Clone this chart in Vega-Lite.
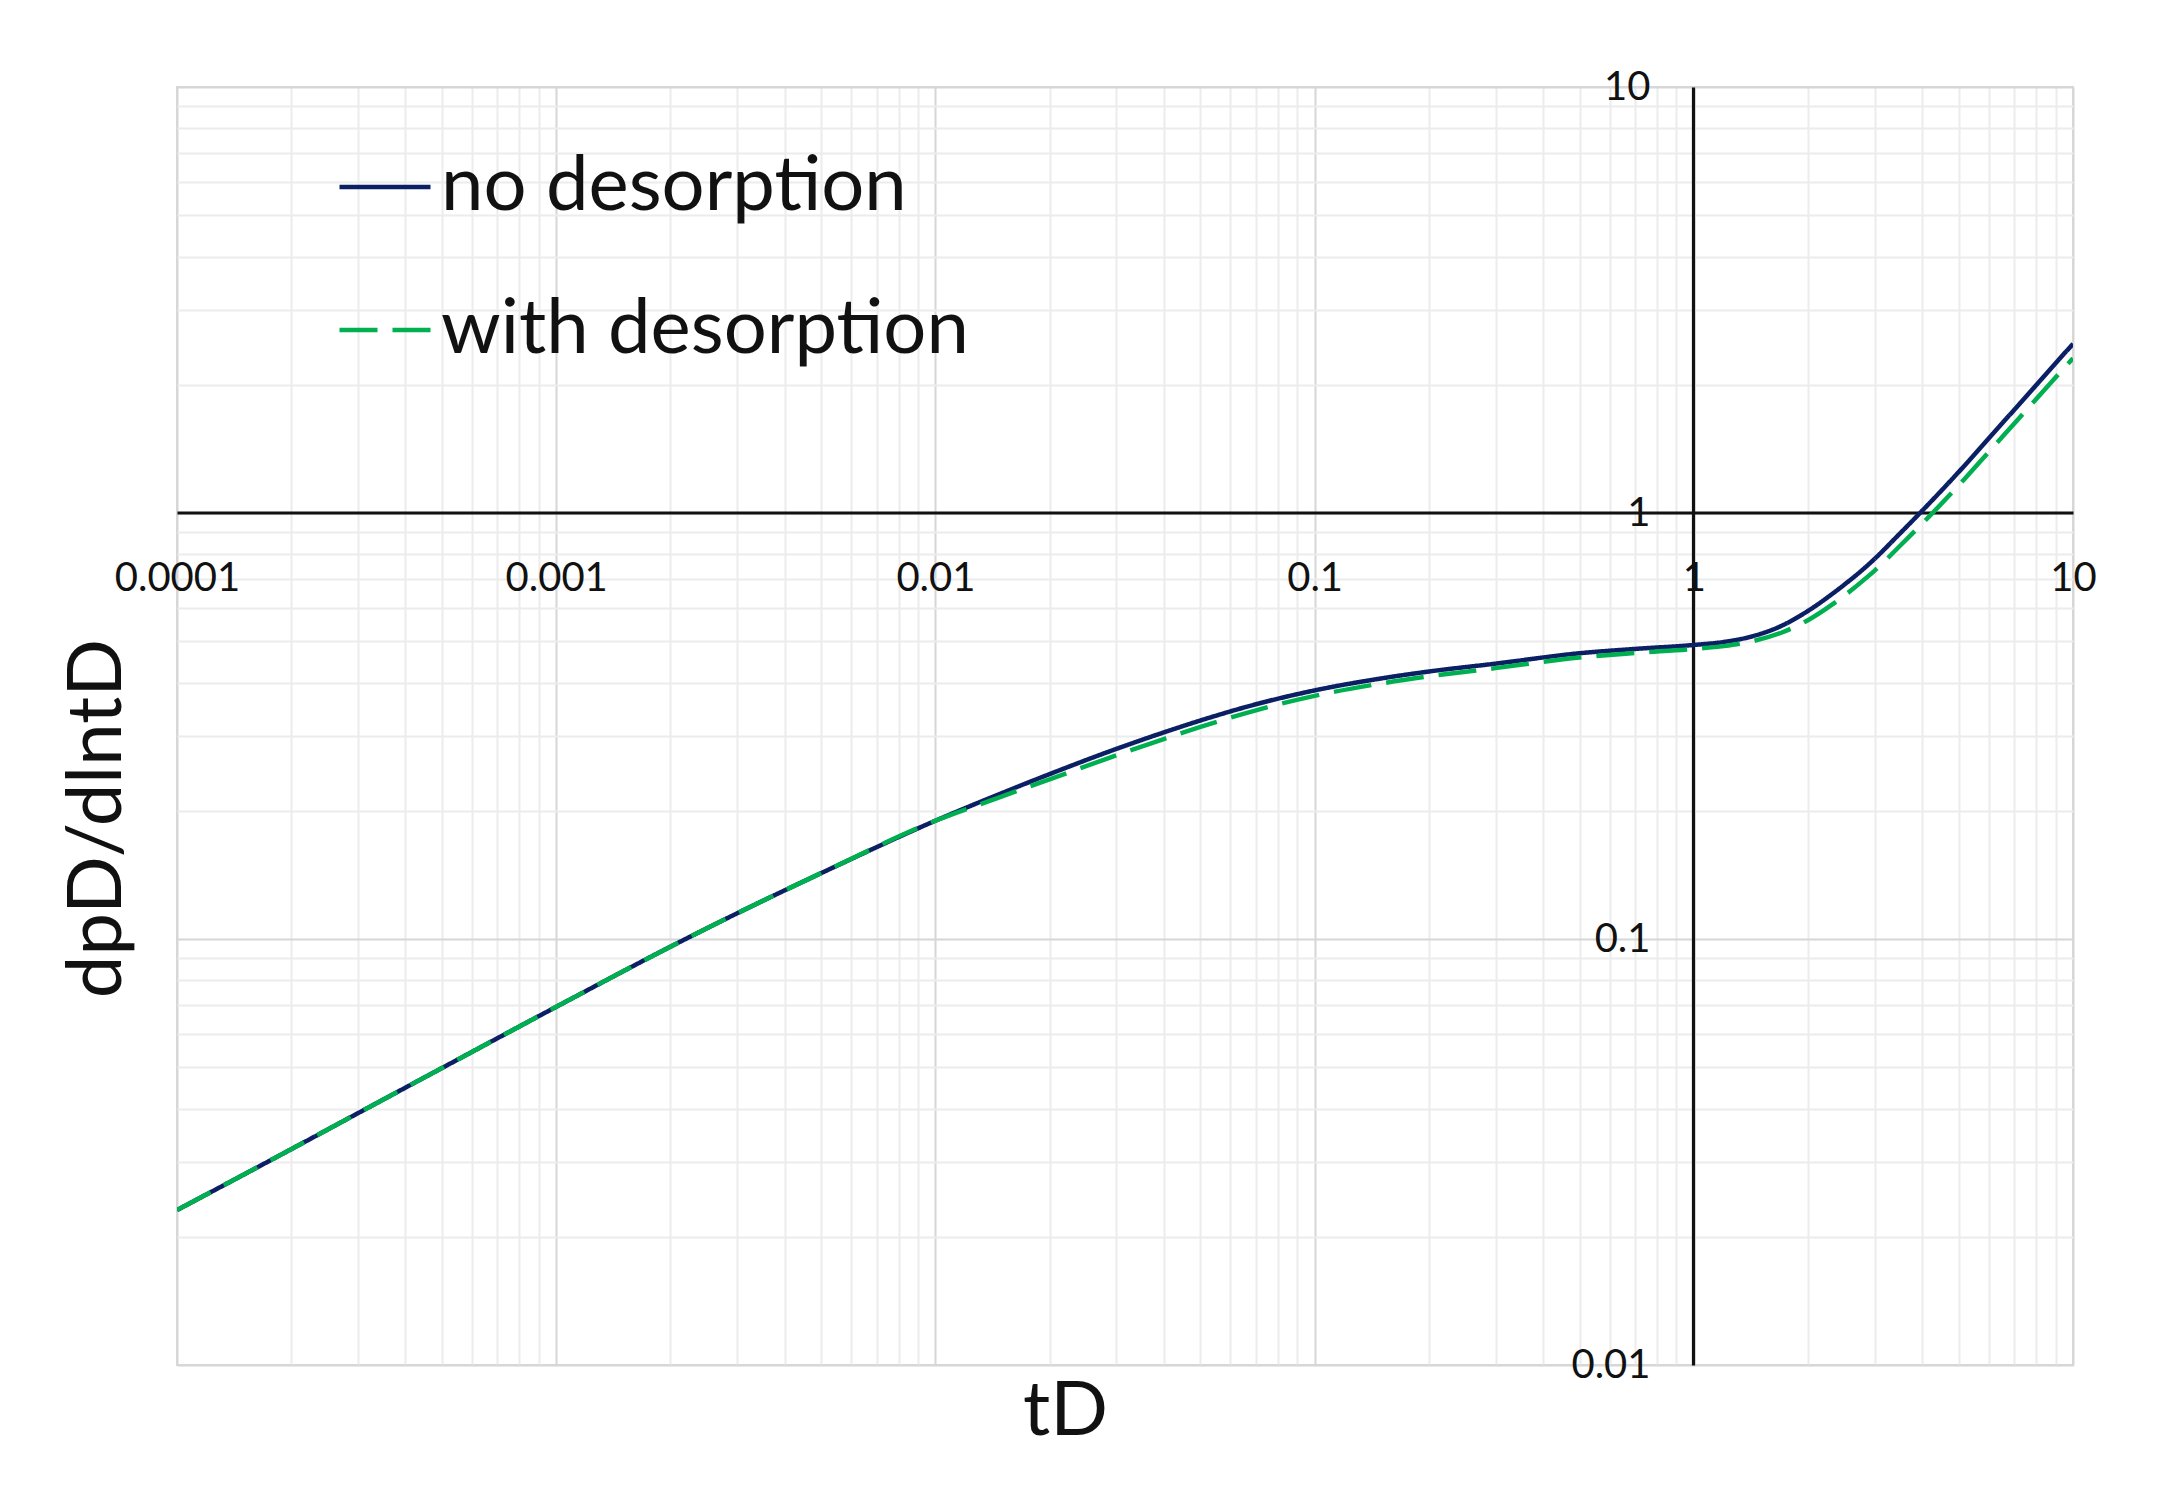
{
  "$schema": "https://vega.github.io/schema/vega-lite/v6.json",
  "width": 1896,
  "height": 1278,
  "autosize": {"type": "none"},
  "padding": {"left": 177, "top": 87, "right": 96, "bottom": 145},
  "background": "white",
  "config": {
    "view": {"stroke": "#d9d9d9", "strokeWidth": 2},
    "font": "Lato"
  },
  "data": {
    "values": [
      {"tD": 0.0001, "v": 0.0231, "series": "no desorption"},
      {"tD": 0.0002, "v": 0.0321, "series": "no desorption"},
      {"tD": 0.0003, "v": 0.039, "series": "no desorption"},
      {"tD": 0.0005, "v": 0.0498, "series": "no desorption"},
      {"tD": 0.001, "v": 0.0693, "series": "no desorption"},
      {"tD": 0.002, "v": 0.0959, "series": "no desorption"},
      {"tD": 0.003, "v": 0.1149, "series": "no desorption"},
      {"tD": 0.005, "v": 0.1428, "series": "no desorption"},
      {"tD": 0.01, "v": 0.1895, "series": "no desorption"},
      {"tD": 0.015, "v": 0.2202, "series": "no desorption"},
      {"tD": 0.02, "v": 0.2438, "series": "no desorption"},
      {"tD": 0.03, "v": 0.2794, "series": "no desorption"},
      {"tD": 0.04, "v": 0.3054, "series": "no desorption"},
      {"tD": 0.05, "v": 0.3258, "series": "no desorption"},
      {"tD": 0.07, "v": 0.3556, "series": "no desorption"},
      {"tD": 0.1, "v": 0.3833, "series": "no desorption"},
      {"tD": 0.15, "v": 0.409, "series": "no desorption"},
      {"tD": 0.2, "v": 0.4245, "series": "no desorption"},
      {"tD": 0.3, "v": 0.443, "series": "no desorption"},
      {"tD": 0.5, "v": 0.4686, "series": "no desorption"},
      {"tD": 0.7, "v": 0.4797, "series": "no desorption"},
      {"tD": 1.0, "v": 0.49, "series": "no desorption"},
      {"tD": 1.2, "v": 0.498, "series": "no desorption"},
      {"tD": 1.4, "v": 0.5113, "series": "no desorption"},
      {"tD": 1.7, "v": 0.543, "series": "no desorption"},
      {"tD": 2.0, "v": 0.589, "series": "no desorption"},
      {"tD": 2.33, "v": 0.648, "series": "no desorption"},
      {"tD": 2.5, "v": 0.68, "series": "no desorption"},
      {"tD": 2.86, "v": 0.751, "series": "no desorption"},
      {"tD": 3.0, "v": 0.781, "series": "no desorption"},
      {"tD": 3.5, "v": 0.896, "series": "no desorption"},
      {"tD": 3.95, "v": 1.0, "series": "no desorption"},
      {"tD": 5.24, "v": 1.308, "series": "no desorption"},
      {"tD": 6.0, "v": 1.498, "series": "no desorption"},
      {"tD": 7.1, "v": 1.772, "series": "no desorption"},
      {"tD": 8.0, "v": 1.997, "series": "no desorption"},
      {"tD": 10.0, "v": 2.496, "series": "no desorption"},
      {"tD": 0.0001, "v": 0.0231, "series": "with desorption"},
      {"tD": 0.0002, "v": 0.0321, "series": "with desorption"},
      {"tD": 0.0003, "v": 0.039, "series": "with desorption"},
      {"tD": 0.0005, "v": 0.0498, "series": "with desorption"},
      {"tD": 0.001, "v": 0.0693, "series": "with desorption"},
      {"tD": 0.002, "v": 0.0959, "series": "with desorption"},
      {"tD": 0.003, "v": 0.1149, "series": "with desorption"},
      {"tD": 0.005, "v": 0.1428, "series": "with desorption"},
      {"tD": 0.01, "v": 0.1895, "series": "with desorption"},
      {"tD": 0.015, "v": 0.2162, "series": "with desorption"},
      {"tD": 0.02, "v": 0.237, "series": "with desorption"},
      {"tD": 0.03, "v": 0.2699, "series": "with desorption"},
      {"tD": 0.04, "v": 0.2947, "series": "with desorption"},
      {"tD": 0.05, "v": 0.3147, "series": "with desorption"},
      {"tD": 0.07, "v": 0.3442, "series": "with desorption"},
      {"tD": 0.1, "v": 0.3722, "series": "with desorption"},
      {"tD": 0.15, "v": 0.398, "series": "with desorption"},
      {"tD": 0.2, "v": 0.4135, "series": "with desorption"},
      {"tD": 0.3, "v": 0.4324, "series": "with desorption"},
      {"tD": 0.5, "v": 0.4578, "series": "with desorption"},
      {"tD": 0.7, "v": 0.4691, "series": "with desorption"},
      {"tD": 1.0, "v": 0.4797, "series": "with desorption"},
      {"tD": 1.2, "v": 0.487, "series": "with desorption"},
      {"tD": 1.4, "v": 0.498, "series": "with desorption"},
      {"tD": 1.7, "v": 0.5235, "series": "with desorption"},
      {"tD": 2.0, "v": 0.5601, "series": "with desorption"},
      {"tD": 2.33, "v": 0.6117, "series": "with desorption"},
      {"tD": 2.5, "v": 0.6406, "series": "with desorption"},
      {"tD": 2.86, "v": 0.706, "series": "with desorption"},
      {"tD": 3.0, "v": 0.7326, "series": "with desorption"},
      {"tD": 3.5, "v": 0.8378, "series": "with desorption"},
      {"tD": 3.95, "v": 0.933, "series": "with desorption"},
      {"tD": 5.24, "v": 1.2164, "series": "with desorption"},
      {"tD": 6.0, "v": 1.3916, "series": "with desorption"},
      {"tD": 7.1, "v": 1.6444, "series": "with desorption"},
      {"tD": 8.0, "v": 1.8512, "series": "with desorption"},
      {"tD": 10.0, "v": 2.3088, "series": "with desorption"}
    ]
  },
  "mark": {"type": "line", "strokeWidth": 4.5, "interpolate": "monotone", "clip": true},
  "encoding": {
    "x": {
      "field": "tD",
      "type": "quantitative",
      "scale": {"type": "log", "domain": [0.0001, 10], "nice": false},
      "axis": {
        "title": "tD",
        "titleFont": "Lato",
        "titleFontSize": 76,
        "titleFontWeight": "normal",
        "titleColor": "#111111",
        "titleX": 888,
        "titleY": 922,
        "titleBaseline": "alphabetic",
        "titleAlign": "center",
        "offset": -852.5,
        "values": [0.0001,0.0002,0.0003,0.0004,0.0005,0.0006,0.0007,0.0008,0.0009,0.001,0.002,0.003,0.004,0.005,0.006,0.007,0.008,0.009,0.01,0.02,0.03,0.04,0.05,0.06,0.07,0.08,0.09,0.1,0.2,0.3,0.4,0.5,0.6,0.7,0.8,0.9,1,2,3,4,5,6,7,8,9,10],
        "format": "~g",
        "labelExpr": "abs(log(datum.value)/LN10 - round(log(datum.value)/LN10)) < 0.001 ? datum.label : ''",
        "labelFont": "Lato",
        "labelFontSize": 40,
        "labelColor": "#111111",
        "labelPadding": 46,
        "labelFlush": false,
        "labelOverlap": false,
        "ticks": false,
        "tickSize": 0,
        "domainColor": "#111111",
        "domainWidth": 3.2,
        "grid": true,
        "gridWidth": 2,
        "gridColor": {"condition": {"test": "abs(log(datum.value)/LN10 - round(log(datum.value)/LN10)) < 0.001", "value": "#d6d6d6"}, "value": "#ececec"}
      }
    },
    "y": {
      "field": "v",
      "type": "quantitative",
      "scale": {"type": "log", "domain": [0.01, 10], "nice": false},
      "axis": {
        "title": "dpD/dlntD",
        "titleFont": "Lato",
        "titleFontSize": 76,
        "titleFontWeight": "normal",
        "titleColor": "#111111",
        "titleAngle": -90,
        "titleX": -1573,
        "titleY": 731,
        "titleBaseline": "alphabetic",
        "titleAlign": "center",
        "offset": -1516,
        "values": [0.01,0.02,0.03,0.04,0.05,0.06,0.07,0.08,0.09,0.1,0.2,0.3,0.4,0.5,0.6,0.7,0.8,0.9,1,2,3,4,5,6,7,8,9,10],
        "format": "~g",
        "labelExpr": "abs(log(datum.value)/LN10 - round(log(datum.value)/LN10)) < 0.001 ? datum.label : ''",
        "labelFont": "Lato",
        "labelFontSize": 40,
        "labelColor": "#111111",
        "labelPadding": 43,
        "labelFlush": false,
        "labelOverlap": false,
        "ticks": false,
        "tickSize": 0,
        "domainColor": "#111111",
        "domainWidth": 3.2,
        "grid": true,
        "gridWidth": 2,
        "gridColor": {"condition": {"test": "abs(log(datum.value)/LN10 - round(log(datum.value)/LN10)) < 0.001", "value": "#d6d6d6"}, "value": "#ececec"}
      }
    },
    "color": {
      "field": "series",
      "type": "nominal",
      "scale": {"domain": ["no desorption", "with desorption"], "range": ["#0b1f65", "#00b050"]},
      "legend": {
        "title": null,
        "orient": "none",
        "legendX": 160,
        "legendY": 52,
        "padding": 0,
        "symbolType": "stroke",
        "symbolSize": 8281,
        "symbolStrokeWidth": 4.5,
        "labelFont": "Lato",
        "labelFontSize": 76,
        "labelColor": "#111111",
        "labelOffset": 8,
        "rowPadding": 57,
        "labelLimit": 1000
      }
    },
    "strokeDash": {
      "field": "series",
      "type": "nominal",
      "scale": {"domain": ["no desorption", "with desorption"], "range": [[1, 0], [38, 15]]},
      "legend": {
        "title": null,
        "orient": "none",
        "legendX": 160,
        "legendY": 52,
        "padding": 0,
        "symbolType": "stroke",
        "symbolSize": 8281,
        "symbolStrokeWidth": 4.5,
        "labelFont": "Lato",
        "labelFontSize": 76,
        "labelColor": "#111111",
        "labelOffset": 8,
        "rowPadding": 57,
        "labelLimit": 1000
      }
    },
    "order": {"field": "tD", "type": "quantitative"}
  }
}
